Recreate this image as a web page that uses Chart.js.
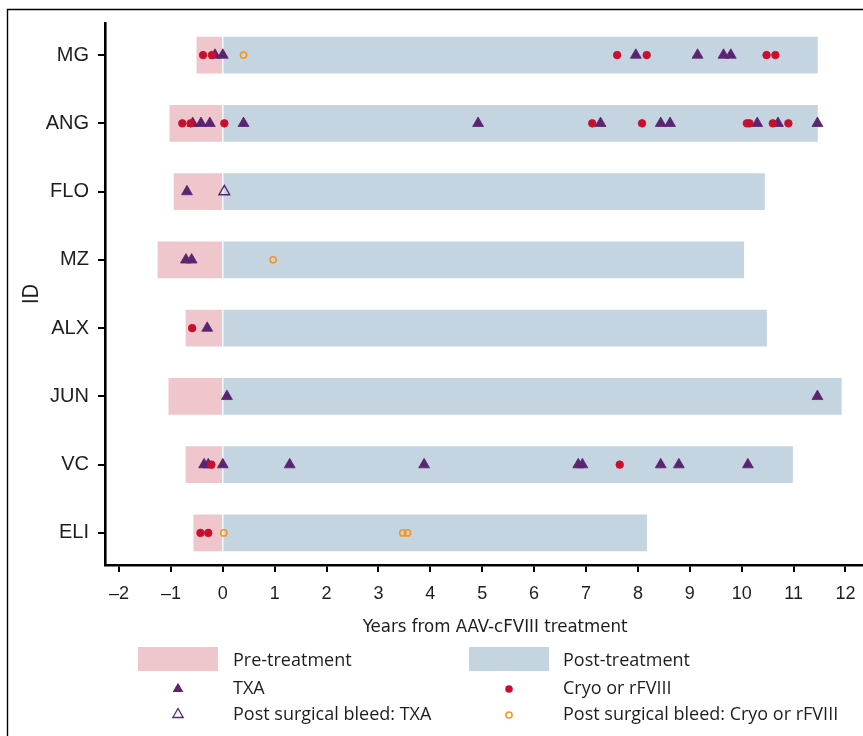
<!DOCTYPE html>
<html>
<head>
<meta charset="utf-8">
<script src="https://cdn.jsdelivr.net/npm/chart.js@4/dist/chart.umd.min.js"></script>
<style>
  html, body { margin: 0; padding: 0; background: #fff; overflow: hidden; }
  #wrap { position: relative; width: 893px; height: 736px; }
  canvas { display: block; }
</style>
</head>
<body>
<div id="wrap"><canvas id="c" width="893" height="736"></canvas></div>
<script>
// ---- data ----
const ids = ['MG', 'ANG', 'FLO', 'MZ', 'ALX', 'JUN', 'VC', 'ELI'];
const preStart = [-0.50, -1.02, -0.94, -1.25, -0.71, -1.04, -0.71, -0.56];
const postEnd  = [11.46, 11.46, 10.44, 10.04, 10.48, 11.92, 10.98, 8.17];
const xTicks = [-2, -1, 0, 1, 2, 3, 4, 5, 6, 7, 8, 9, 10, 11, 12];

// events: [id, years]
const txa = [
  ['MG', -0.15], ['MG', 0.00], ['MG', 7.96], ['MG', 9.15], ['MG', 9.65], ['MG', 9.79],
  ['ANG', -0.58], ['ANG', -0.42], ['ANG', -0.25], ['ANG', 0.40], ['ANG', 4.92], ['ANG', 7.28],
  ['ANG', 8.44], ['ANG', 8.62], ['ANG', 10.30], ['ANG', 10.70], ['ANG', 11.46],
  ['FLO', -0.69],
  ['MZ', -0.71], ['MZ', -0.60],
  ['ALX', -0.30],
  ['JUN', 0.08], ['JUN', 11.46],
  ['VC', -0.36], ['VC', -0.28], ['VC', 0.00], ['VC', 1.29], ['VC', 3.88], ['VC', 6.85],
  ['VC', 6.93], ['VC', 8.44], ['VC', 8.79], ['VC', 10.12]
];
const cryo = [
  ['MG', -0.38], ['MG', -0.21], ['MG', 7.60], ['MG', 8.17], ['MG', 10.48], ['MG', 10.65],
  ['ANG', -0.78], ['ANG', -0.62], ['ANG', 0.03], ['ANG', 7.12], ['ANG', 8.08], ['ANG', 10.10],
  ['ANG', 10.15], ['ANG', 10.60], ['ANG', 10.90],
  ['ALX', -0.59],
  ['VC', -0.22], ['VC', 7.65],
  ['ELI', -0.43], ['ELI', -0.28]
];
const surgTxa = [['FLO', 0.03]];
const surgCryo = [['MG', 0.40], ['MZ', 0.97], ['ELI', 0.02], ['ELI', 3.47], ['ELI', 3.56]];

// ---- styles ----
const PINK = '#f0c6cd';
const BLUE = '#c5d4e1';
const PURPLE = '#5a2570';
const RED = '#c8102e';
const ORANGE = '#f5961e';
const TEXT = '#1e1e1e';
const COND = '"DejaVu Sans Condensed", "Liberation Sans Narrow", sans-serif';

const rowOf = id => ids.indexOf(id) + 1;
const pts = arr => arr.map(([id, x]) => ({ x: x, y: rowOf(id) }));

function drawTri(ctx, x, y, r) {
  ctx.beginPath();
  let a = 0;
  ctx.moveTo(x + Math.sin(a) * r, y - Math.cos(a) * r);
  a += 2 * Math.PI / 3;
  ctx.lineTo(x + Math.sin(a) * r, y - Math.cos(a) * r);
  a += 2 * Math.PI / 3;
  ctx.lineTo(x + Math.sin(a) * r, y - Math.cos(a) * r);
  ctx.closePath();
}

const framePlugin = {
  id: 'frame',
  beforeDraw(chart) {
    const ctx = chart.ctx;
    ctx.save();
    ctx.fillStyle = '#fff';
    ctx.fillRect(0, 0, chart.width, chart.height);
    ctx.strokeStyle = '#000';
    ctx.lineWidth = 1.4;
    ctx.beginPath();
    ctx.moveTo(7.5, chart.height + 2);
    ctx.lineTo(7.5, 9.5);
    ctx.lineTo(chart.width + 2, 9.5);
    ctx.stroke();
    ctx.restore();
  }
};

const legendPlugin = {
  id: 'customLegend',
  afterDraw(chart) {
    const ctx = chart.ctx;
    ctx.save();
    ctx.font = '18px "Open Sans"';
    ctx.textBaseline = 'middle';
    ctx.textAlign = 'left';
    ctx.fillStyle = PINK; ctx.fillRect(138, 647, 80, 24);
    ctx.fillStyle = BLUE; ctx.fillRect(469, 647, 80, 24);
    ctx.fillStyle = TEXT;
    ctx.fillText('Pre-treatment', 233, 661);
    ctx.fillText('Post-treatment', 563, 661);
    ctx.fillStyle = PURPLE; drawTri(ctx, 178, 689, 6.2); ctx.fill();
    ctx.fillStyle = RED; ctx.beginPath(); ctx.arc(509, 689, 3.8, 0, Math.PI * 2); ctx.fill();
    ctx.fillStyle = TEXT;
    ctx.fillText('TXA', 233, 689);
    ctx.fillText('Cryo or rFVIII', 563, 689);
    ctx.strokeStyle = PURPLE; ctx.lineWidth = 1.3; drawTri(ctx, 178, 714.5, 6); ctx.stroke();
    ctx.strokeStyle = ORANGE; ctx.lineWidth = 1.5; ctx.beginPath(); ctx.arc(509, 715, 3.1, 0, Math.PI * 2); ctx.stroke();
    ctx.fillStyle = TEXT;
    ctx.fillText('Post surgical bleed: TXA', 233, 715);
    ctx.fillText('Post surgical bleed: Cryo or rFVIII', 563, 715);
    ctx.restore();
  }
};

const chart = new Chart(document.getElementById('c'), {
  type: 'scatter',
  data: {
    datasets: [
      {
        type: 'bar', label: 'Pre-treatment', indexAxis: 'y', grouped: false,
        data: ids.map((id, i) => ({ x: [preStart[i], 0], y: i + 1 })),
        backgroundColor: PINK, borderWidth: 0, barThickness: 36, order: 10
      },
      {
        type: 'bar', label: 'Post-treatment', indexAxis: 'y', grouped: false,
        data: ids.map((id, i) => ({ x: [0, postEnd[i]], y: i + 1 })),
        backgroundColor: BLUE, borderWidth: 0, barThickness: 36, order: 10
      },
      {
        label: 'TXA', data: pts(txa), pointStyle: 'triangle', pointRadius: 6.3,
        backgroundColor: PURPLE, borderColor: PURPLE, borderWidth: 0.8, order: 4
      },
      {
        label: 'Post surgical bleed: TXA', data: pts(surgTxa), pointStyle: 'triangle', pointRadius: 6.2,
        backgroundColor: 'rgba(0,0,0,0)', borderColor: PURPLE, borderWidth: 1.4, order: 3
      },
      {
        label: 'Cryo or rFVIII', data: pts(cryo), pointStyle: 'circle', pointRadius: 3.8,
        backgroundColor: RED, borderColor: RED, borderWidth: 0.8, order: 2
      },
      {
        label: 'Post surgical bleed: Cryo or rFVIII', data: pts(surgCryo), pointStyle: 'circle', pointRadius: 3.1,
        backgroundColor: 'rgba(0,0,0,0)', borderColor: ORANGE, borderWidth: 1.6, order: 1
      }
    ]
  },
  options: {
    responsive: false,
    maintainAspectRatio: false,
    animation: false,
    events: [],
    layout: { padding: { left: 0, top: 23, right: 0, bottom: 97 } },
    plugins: { legend: { display: false }, tooltip: { enabled: false } },
    scales: {
      x: {
        type: 'linear', position: 'bottom', min: -2.27, max: 12.77, offset: false,
        afterBuildTicks: s => { s.ticks = xTicks.map(v => ({ value: v })); },
        afterFit: s => { s.height = 74; },
        ticks: {
          autoSkip: false, maxRotation: 0, padding: 11, color: TEXT,
          font: { family: '"Liberation Sans", Arial, sans-serif', size: 18 },
          callback: v => (v < 0 ? '\u2013' + Math.abs(v) : String(v))
        },
        grid: { display: true, offset: false, drawOnChartArea: false, drawTicks: true, tickLength: 7, lineWidth: 2, color: '#000' },
        border: { display: true, color: '#000', width: 2.6 },
        title: {
          display: true, text: 'Years from AAV-cFVIII treatment', color: TEXT,
          font: { family: COND, size: 18.5 },
          padding: { top: 0, bottom: 1 }
        }
      },
      y: {
        type: 'linear', position: 'left', min: 0.53, max: 8.47, reverse: true, offset: false,
        afterBuildTicks: s => { s.ticks = ids.map((id, i) => ({ value: i + 1 })); },
        afterFit: s => { s.width = 105; },
        ticks: {
          autoSkip: false, padding: 9, color: TEXT,
          font: { family: '"Liberation Sans", Arial, sans-serif', size: 20 },
          callback: v => ids[Math.round(v) - 1] || ''
        },
        grid: { display: true, offset: false, drawOnChartArea: false, drawTicks: true, tickLength: 7, lineWidth: 2, color: '#000' },
        border: { display: true, color: '#000', width: 2.6 },
        title: {
          display: true, text: 'ID', color: TEXT,
          font: { family: COND, size: 21 },
          padding: { top: 20, bottom: 0 }
        }
      }
    }
  },
  plugins: [framePlugin, legendPlugin]
});
</script>
</body>
</html>
